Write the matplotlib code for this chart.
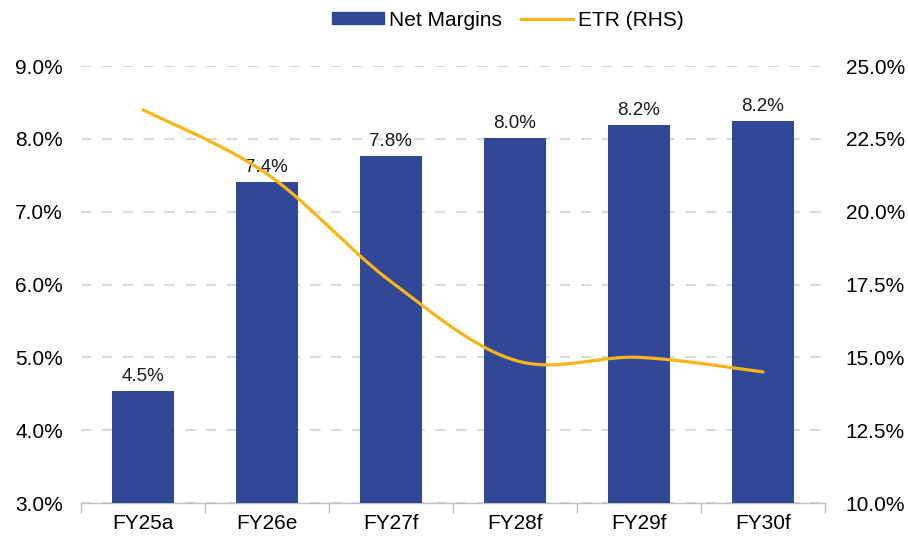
import numpy as np
import matplotlib
matplotlib.use("Agg")
import matplotlib.pyplot as plt
from matplotlib.patches import Patch
from matplotlib.lines import Line2D

plt.rcParams['font.family'] = ['Liberation Sans', 'DejaVu Sans']

categories = ["FY25a", "FY26e", "FY27f", "FY28f", "FY29f", "FY30f"]
net_margins = [4.54, 7.41, 7.77, 8.01, 8.19, 8.25]
etr = [23.5, 21.3, 17.6, 14.9, 15.0, 14.5]
left_ticks = [3.0, 4.0, 5.0, 6.0, 7.0, 8.0, 9.0]
right_ticks = [10.0, 12.5, 15.0, 17.5, 20.0, 22.5, 25.0]

BAR = "#314896"
LINE = "#FBB315"

fig = plt.figure(figsize=(9.08, 5.41), dpi=100)
ax = fig.add_axes([0.089, 0.0702, 0.8196, 0.8078])
x = np.arange(len(categories))

ax.bar(x, net_margins, width=0.5, color=BAR, zorder=3)
for xi, v in zip(x, net_margins):
    ax.text(xi, v + 0.08, f"{v:.1f}%", ha="center", va="bottom", fontsize=13.5, color="#1a1a1a", zorder=4)

ax.set_xlim(-0.5, len(categories) - 0.5)
ax.set_ylim(3, 9)
ax.set_yticks(left_ticks)
ax.set_yticklabels([f"{t:.1f}%" for t in left_ticks])
ax.set_xticks(x)
ax.set_xticklabels(categories)
ax.set_xticks(np.arange(-0.5, len(categories)), minor=True)
ax.tick_params(axis="x", which="major", length=0, pad=8, labelsize=15)
ax.tick_params(axis="x", which="minor", length=7, width=1, color="#bfbfbf")
ax.tick_params(axis="y", length=0, pad=13, labelsize=15)
ax.yaxis.grid(True, linestyle=(0, (5, 5)), color="#d9d9d9", linewidth=1.5, zorder=0)
for s in ["top", "right", "left"]:
    ax.spines[s].set_visible(False)
ax.spines["bottom"].set_color("#bfbfbf")
ax.spines["bottom"].set_linewidth(1)
ax.spines["bottom"].set_zorder(2)
ax.set_axisbelow(True)

ax2 = ax.twinx()
ax2.set_ylim(10, 25)
ax2.set_yticks(right_ticks)
ax2.set_yticklabels([f"{t:.1f}%" for t in right_ticks])
ax2.tick_params(axis="y", length=0, pad=15, labelsize=15)
for s in ["top", "right", "left", "bottom"]:
    ax2.spines[s].set_visible(False)

# Catmull-Rom smoothing (Excel-like smoothed line)
px = np.array(x, dtype=float)
py = np.array(etr, dtype=float)
sx, sy = [], []
n = len(px)
for i in range(n - 1):
    p0 = (px[max(i - 1, 0)], py[max(i - 1, 0)])
    p1 = (px[i], py[i])
    p2 = (px[i + 1], py[i + 1])
    p3 = (px[min(i + 2, n - 1)], py[min(i + 2, n - 1)])
    c1 = (p1[0] + (p2[0] - p0[0]) / 6, p1[1] + (p2[1] - p0[1]) / 6)
    c2 = (p2[0] - (p3[0] - p1[0]) / 6, p2[1] - (p3[1] - p1[1]) / 6)
    t = np.linspace(0, 1, 40)
    bx = (1 - t) ** 3 * p1[0] + 3 * (1 - t) ** 2 * t * c1[0] + 3 * (1 - t) * t ** 2 * c2[0] + t ** 3 * p2[0]
    by = (1 - t) ** 3 * p1[1] + 3 * (1 - t) ** 2 * t * c1[1] + 3 * (1 - t) * t ** 2 * c2[1] + t ** 3 * p2[1]
    sx.extend(bx)
    sy.extend(by)
ax2.plot(sx, sy, color=LINE, linewidth=2.3, solid_capstyle="round", zorder=5)

handles = [Patch(facecolor=BAR, edgecolor=BAR), Line2D([0], [0], color=LINE, linewidth=2.3)]
fig.legend(handles, ["Net Margins", "ETR (RHS)"], loc="center", bbox_to_anchor=(0.559, 0.963),
           ncol=2, frameon=False, fontsize=15, handlelength=2.5, handleheight=0.55,
           handletextpad=0.25, columnspacing=0.9)

fig.savefig("out.png", dpi=100)
